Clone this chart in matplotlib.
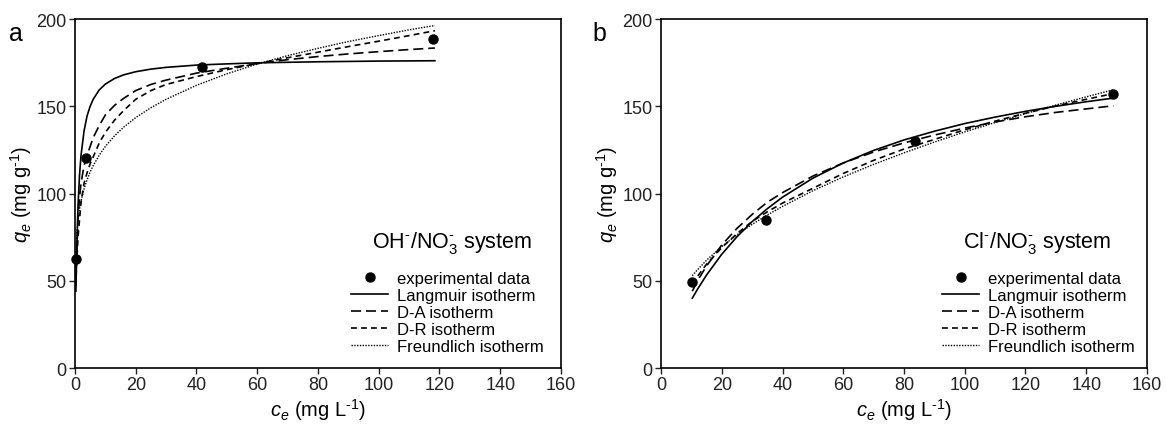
import numpy as np
import matplotlib
matplotlib.use("Agg")
import matplotlib.pyplot as plt

plt.rcParams['font.family'] = ['Liberation Sans', 'DejaVu Sans']
plt.rcParams['mathtext.fontset'] = 'custom'
plt.rcParams['mathtext.rm'] = 'Liberation Sans'
plt.rcParams['mathtext.it'] = 'Liberation Sans:italic'

# ---- panel a : OH-/NO3- system ----
a_exp_c = [0.3, 3.6, 41.8, 118.0]
a_exp_q = [62.5, 120.3, 172.5, 188.5]

a_c = [0.3, 0.5, 1, 1.5, 2, 3, 4, 5, 6, 8, 10, 13, 16, 20, 25, 30, 40, 50,
       60, 70, 80, 90, 100, 110, 118.5]
a_langmuir = [44, 63, 93, 110.5, 122, 136, 144.6, 150, 154, 159.4, 162.7, 165.9,
              168, 169.8, 171.3, 172.3, 173.6, 174.3, 174.9, 175.2, 175.5, 175.7,
              175.9, 176.0, 176.1]
a_da = [48, 62, 85, 98, 106, 116, 122, 127, 132, 139, 145, 150.5, 154.5, 159,
        162.5, 165, 169, 171.8, 174.5, 176.7, 178.5, 180, 181.3, 182.5, 183.4]
a_dr = [47, 58, 75, 85, 95, 106, 112, 117, 121, 129, 135, 142, 147.5, 154, 159,
        162.5, 167, 171, 174.5, 177.8, 181, 184.2, 187.3, 190.5, 193.3]
a_freund = [66, 75, 84.7, 91, 95.7, 102.7, 108, 112.4, 116, 122, 127, 133, 138,
            143.5, 149.2, 154, 162, 168.6, 174.2, 179, 183.2, 187.1, 190.5, 193.8,
            196.3]

# ---- panel b : Cl-/NO3- system ----
b_exp_c = [10.2, 34.5, 83.6, 148.7]
b_exp_q = [49.3, 84.8, 130.0, 157.0]

b_c = [10.3, 12, 15, 20, 25, 30, 35, 40, 50, 60, 70, 80, 90, 100, 110, 120,
       130, 140, 149]
b_langmuir = [40.0, 45.1, 53.3, 65.2, 75.2, 83.9, 91.3, 97.9, 108.8, 117.5,
              124.7, 130.7, 135.7, 140.1, 143.8, 147.1, 150.0, 152.6, 154.7]
b_da = [44, 50, 58.5, 70.5, 80, 88, 95, 100.5, 110, 117.5, 123.8, 129, 133.5,
        137.5, 141, 144, 146.5, 148.5, 150.3]
b_dr = [48, 52.5, 59.5, 69, 77, 84, 89.5, 94.5, 103, 111.5, 119, 125.5, 131,
        136.5, 141.5, 146, 150.2, 154, 157.3]
b_freund = [52.9, 56.3, 61.8, 69.6, 76.3, 82.3, 87.7, 92.6, 101.6, 109.5, 116.7,
            123.3, 129.5, 135.3, 140.7, 145.8, 150.7, 155.4, 159.5]

labels = ['experimental data', 'Langmuir isotherm', 'D-A isotherm',
          'D-R isotherm', 'Freundlich isotherm']


def draw(ax, exp_c, exp_q, c, lang, da, dr, fr, system, sys_x, leg_x):
    ax.plot(exp_c, exp_q, 'o', color='black', markersize=6.5, zorder=5,
            label=labels[0], clip_on=False)
    ax.plot(c, lang, '-', color='black', lw=1.2, label=labels[1])
    ax.plot(c, da, color='black', lw=1.2, dashes=(6, 3), label=labels[2])
    ax.plot(c, dr, color='black', lw=1.2, dashes=(3.5, 2.5), label=labels[3])
    ax.plot(c, fr, color='black', lw=1.0, dashes=(1, 1), label=labels[4])

    ax.set_xlim(0, 160)
    ax.set_ylim(0, 200)
    ax.set_xticks(np.arange(0, 161, 20))
    ax.set_yticks(np.arange(0, 201, 50))
    ax.tick_params(direction='out', length=4, width=1, labelsize=13, pad=2,
                   top=False, right=False, colors='#222222')
    for s in ax.spines.values():
        s.set_linewidth(1.2)
    ax.set_xlabel(r'$c_e$ (mg L$^{\text{-1}}$)', fontsize=14.5, labelpad=2)
    ax.set_ylabel(r'$q_e$ (mg g$^{\text{-1}}$)', fontsize=14.5, labelpad=2)

    ax.text(sys_x, 0.36, system, transform=ax.transAxes, ha='right',
            va='center', fontsize=15.5)
    ax.legend(loc='lower right', bbox_to_anchor=(leg_x, 0.04), frameon=False,
              fontsize=12, handlelength=2.2, handletextpad=0.55,
              labelspacing=0.12, borderpad=0, borderaxespad=0, numpoints=1)


fig = plt.figure(figsize=(11.66, 4.27), dpi=100)
ax1 = fig.add_axes([0.0643, 0.1358, 0.4168, 0.8173])
ax2 = fig.add_axes([0.5669, 0.1358, 0.4168, 0.8173])

draw(ax1, a_exp_c, a_exp_q, a_c, a_langmuir, a_da, a_dr, a_freund,
     r'OH$^{\text{-}}$/NO$_3^{\text{-}}$ system', 0.94, 0.965)
draw(ax2, b_exp_c, b_exp_q, b_c, b_langmuir, b_da, b_dr, b_freund,
     r'Cl$^{\text{-}}$/NO$_3^{\text{-}}$ system', 0.926, 0.975)

fig.text(0.008, 0.905, 'a', fontsize=18)
fig.text(0.508, 0.905, 'b', fontsize=18)

fig.savefig('out.png', dpi=100)
